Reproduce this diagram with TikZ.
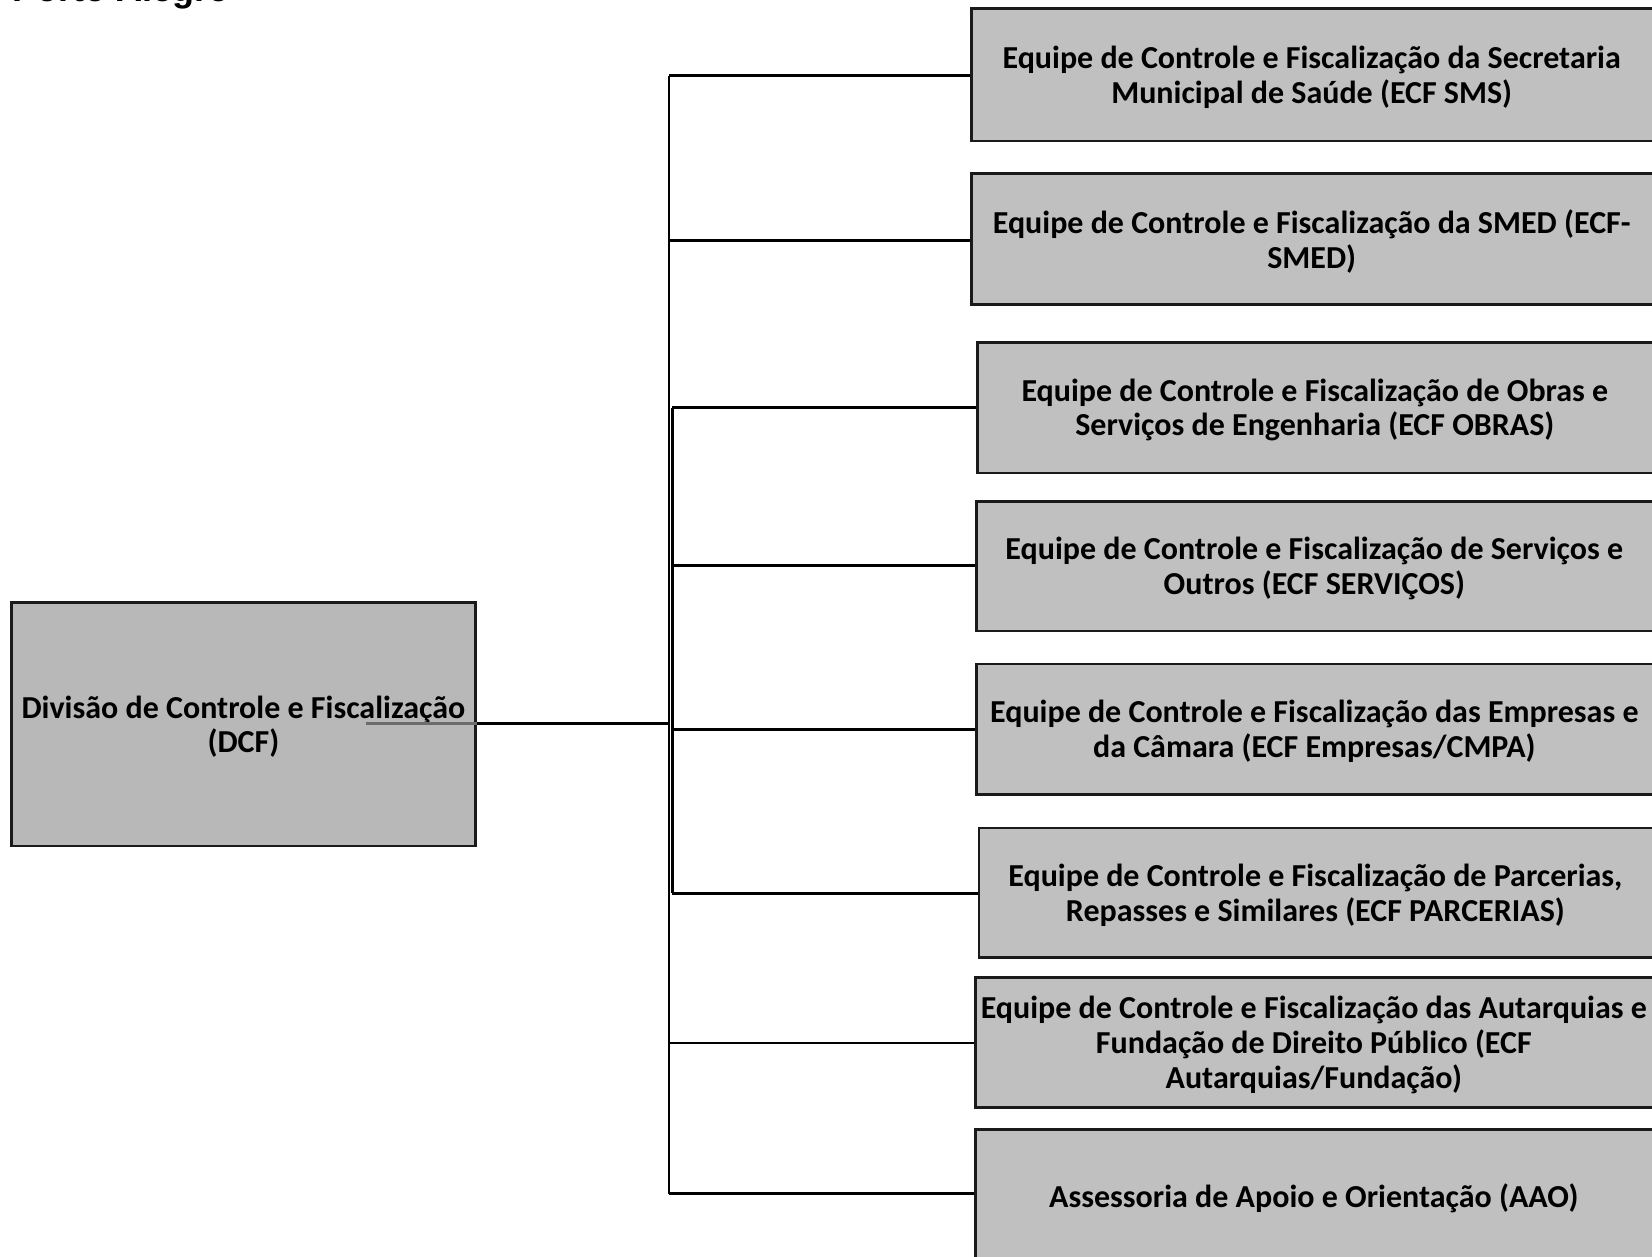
\documentclass[tikz,border=0pt]{standalone}
\usepackage{fontspec}
\setmainfont{Carlito}
\newfontfamily\arialfont{Liberation Sans}
\definecolor{boxgray}{HTML}{C0C0C0}
\definecolor{dcfgray}{HTML}{B8B8B8}
\definecolor{edge}{HTML}{1A1A1A}
\tikzset{
  orgbox/.style={draw=edge, line width=2.6pt, fill=boxgray, rectangle, inner sep=0pt,
    align=center, font=\bfseries\fontsize{32}{34.8}\selectfont},
  boxtext/.style={align=center, font=\bfseries\fontsize{32}{34.8}\selectfont, yshift=-2.2pt},
  conn/.style={line width=2.8pt, draw=black},
}
\newcommand{\rbox}[5]{% name, left, top, bottom, text
  \node[orgbox, minimum width={1658-#2}, minimum height={#4-#3}] (#1) at ({(#2+1658)/2},{(#3+#4)/2}) {};
  \node[boxtext] (#1t) at ({(#2+1652)/2},{(#3+#4)/2}) {#5};
}
\begin{document}
\begin{tikzpicture}[x=1pt,y=-1pt]
\useasboundingbox (0,0) rectangle (1652,1257);
\clip (0,0) rectangle (1652,1257);
\fill[white] (0,0) rectangle (1652,1257);

\node[anchor=base west, font=\arialfont\bfseries\fontsize{36}{40}\selectfont, inner sep=0pt] (title) at (12.6,1.5) {Porto Alegre};

% DCF
\node[orgbox, fill=dcfgray, minimum width=463.6, minimum height=243.3] (dcf) at (243.4,724.4) {};
\node[boxtext] (dcft) at (243.4,724.4) {Divisão de Controle e Fiscalização\\(DCF)};

% right boxes
\rbox{b1}{971.4}{8.4}{141.2}{Equipe de Controle e Fiscalização da Secretaria\\Municipal de Saúde (ECF SMS)}
\rbox{b2}{971.4}{173.8}{304.5}{Equipe de Controle e Fiscalização da SMED (ECF-\\SMED)}
\rbox{b3}{977.7}{342.4}{473.1}{Equipe de Controle e Fiscalização de Obras e\\Serviços de Engenharia (ECF OBRAS)}
\rbox{b4}{976.7}{501.5}{631.1}{Equipe de Controle e Fiscalização de Serviços e\\Outros (ECF SERVIÇOS)}
\rbox{b5}{976.7}{663.8}{794.4}{Equipe de Controle e Fiscalização das Empresas e\\da Câmara (ECF Empresas/CMPA)}
\rbox{b6}{978.8}{828.1}{957.7}{Equipe de Controle e Fiscalização de Parcerias,\\Repasses e Similares (ECF PARCERIAS)}
\rbox{b7}{975.6}{977.7}{1107.3}{Equipe de Controle e Fiscalização das Autarquias e\\Fundação de Direito Público (ECF\\Autarquias/Fundação)}
\rbox{b8}{975.6}{1129.5}{1262}{Assessoria de Apoio e Orientação (AAO)}

% trunk
\coordinate (t1) at (669,75.9);
\coordinate (t2) at (669,240.2);
\coordinate (t7) at (669,1043);
\coordinate (t8) at (669,1193.7);
\coordinate (td) at (669,723.8);
\coordinate (s3) at (672.2,407.7);
\coordinate (s4) at (672.2,565.8);
\coordinate (s5) at (672.2,729.1);
\coordinate (s6) at (672.2,893.4);

\draw[conn] (t1) -- (t8);
\draw[conn] (s3) -- (s6);
\draw[conn] (t1) -- (t1 -| b1.west);
\draw[conn] (t2) -- (t2 -| b2.west);
\draw[conn] (s3) -- (s3 -| b3.west);
\draw[conn] (s4) -- (s4 -| b4.west);
\draw[conn] (s5) -- (s5 -| b5.west);
\draw[conn] (s6) -- (s6 -| b6.west);
\draw[conn] (t7) -- (t7 -| b7.west);
\draw[conn] (t8) -- (t8 -| b8.west);
\draw[conn] (td -| dcf.east) -- (td);
\coordinate (g0) at (365.6,723.8);
\draw[line width=2.8pt, draw=gray!85!black] (g0) -- (g0 -| dcf.east);
\end{tikzpicture}
\end{document}
